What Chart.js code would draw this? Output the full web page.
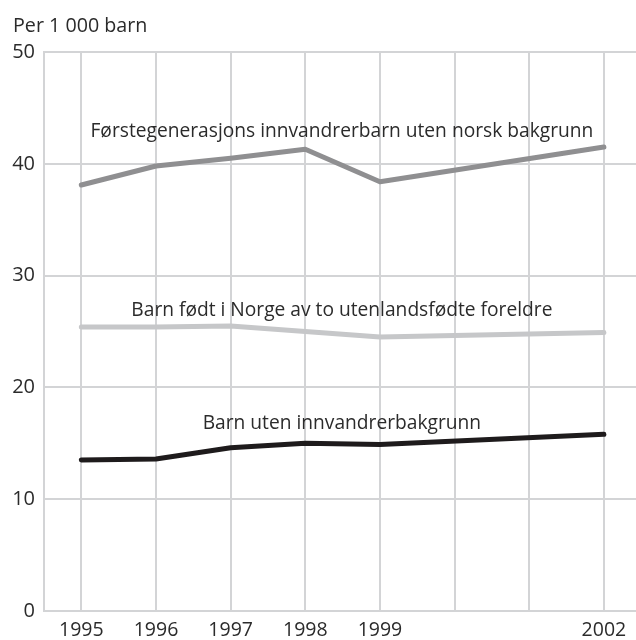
<!DOCTYPE html>
<html>
<head>
<meta charset="utf-8">
<script src="https://cdn.jsdelivr.net/npm/chart.js@4/dist/chart.umd.min.js"></script>
<style>
	html, body { margin: 0; padding: 0; background: #fff; overflow: hidden; }
	#wrap { width: 636px; height: 640px; }
</style>
</head>
<body>
<div id="wrap"><canvas id="chart"></canvas></div>
<script>
// years on the x axis; 2000 and 2001 have gridlines but no values or labels
const years = [1995, 1996, 1997, 1998, 1999, 2000, 2001, 2002];
const yearLabels = ['1995', '1996', '1997', '1998', '1999', '', '', '2002'];
const yTicks = [0, 10, 20, 30, 40, 50];

const seriesNames = [
	'Førstegenerasjons innvandrerbarn uten norsk bakgrunn',
	'Barn født i Norge av to utenlandsfødte foreldre',
	'Barn uten innvandrerbakgrunn'
];
const forstegenerasjon = [38.1, 39.8, 40.5, 41.3, 38.4, null, null, 41.5];
const fodtINorge = [25.4, 25.4, 25.5, 25.0, 24.5, null, null, 24.9];
const utenInnvandrer = [13.5, 13.6, 14.6, 15.0, 14.9, null, null, 15.8];

const unitLabel = 'Per 1 000 barn';

(function(){
	const FONT = '"Open Sans", "Noto Sans", sans-serif';
	const colors = ['#8f8f91', '#c6c7c9', '#1e1b1c'];
	const values = [forstegenerasjon, fodtINorge, utenInnvandrer];
	// where the series names sit, in data units (x centre, baseline)
	const labelAt = [
		{ x: 1998.49, y: 42.4 },
		{ x: 1998.49, y: 26.4 },
		{ x: 1998.49, y: 16.3 }
	];

	function points(arr){
		return years.map((yr, i) => ({ x: yr, y: arr[i] }));
	}

	const textPlugin = {
		id: 'texts',
		afterDatasetsDraw(chart){
			const ctx = chart.ctx;
			const xs = chart.scales.x, ys = chart.scales.y;
			ctx.save();
			ctx.fillStyle = '#2b2b2b';
			ctx.font = '19.7px ' + FONT;
			ctx.textAlign = 'left';
			ctx.textBaseline = 'alphabetic';
			ctx.fillText(unitLabel, 13, 32);
			ctx.font = '19.2px ' + FONT;
			ctx.textAlign = 'center';
			seriesNames.forEach((name, i) => {
				ctx.fillText(name, xs.getPixelForValue(labelAt[i].x), ys.getPixelForValue(labelAt[i].y));
			});
			ctx.restore();
		}
	};

	new Chart(document.getElementById('chart'), {
		type: 'line',
		data: {
			datasets: values.map((arr, i) => ({
				label: seriesNames[i],
				data: points(arr),
				borderColor: colors[i],
				borderWidth: 5,
				borderCapStyle: 'round',
				borderJoinStyle: 'round',
				pointRadius: 0,
				tension: 0,
				spanGaps: true,
				fill: false
			}))
		},
		options: {
			responsive: true,
			maintainAspectRatio: false,
			animation: false,
			events: [],
			layout: { padding: { top: 52, left: 0, right: 0, bottom: 0 } },
			plugins: {
				legend: { display: false },
				tooltip: { enabled: false },
				title: { display: false }
			},
			scales: {
				x: {
					type: 'linear',
					min: 1994.5,
					max: 2002.43,
					afterBuildTicks(axis){
						axis.ticks = years.map(v => ({ value: v }));
					},
					afterFit(axis){ axis.height = 29; },
					ticks: {
						autoSkip: false,
						maxRotation: 0,
						padding: 8,
						color: '#2b2b2b',
						font: { family: FONT, size: 19.5 },
						callback: (v) => yearLabels[years.indexOf(v)] || ''
					},
					grid: { color: '#d3d4d6', lineWidth: 2, drawTicks: false },
					border: { display: false }
				},
				y: {
					min: 0,
					max: 50,
					afterBuildTicks(axis){
						axis.ticks = yTicks.map(v => ({ value: v }));
					},
					afterFit(axis){ axis.width = 44; },
					ticks: {
						padding: 9,
						color: '#2b2b2b',
						font: { family: FONT, size: 20 }
					},
					grid: { color: '#d3d4d6', lineWidth: 2, drawTicks: false },
					border: { display: true, color: '#d3d4d6', width: 2 }
				}
			}
		},
		plugins: [textPlugin]
	});
})();
</script>
</body>
</html>
